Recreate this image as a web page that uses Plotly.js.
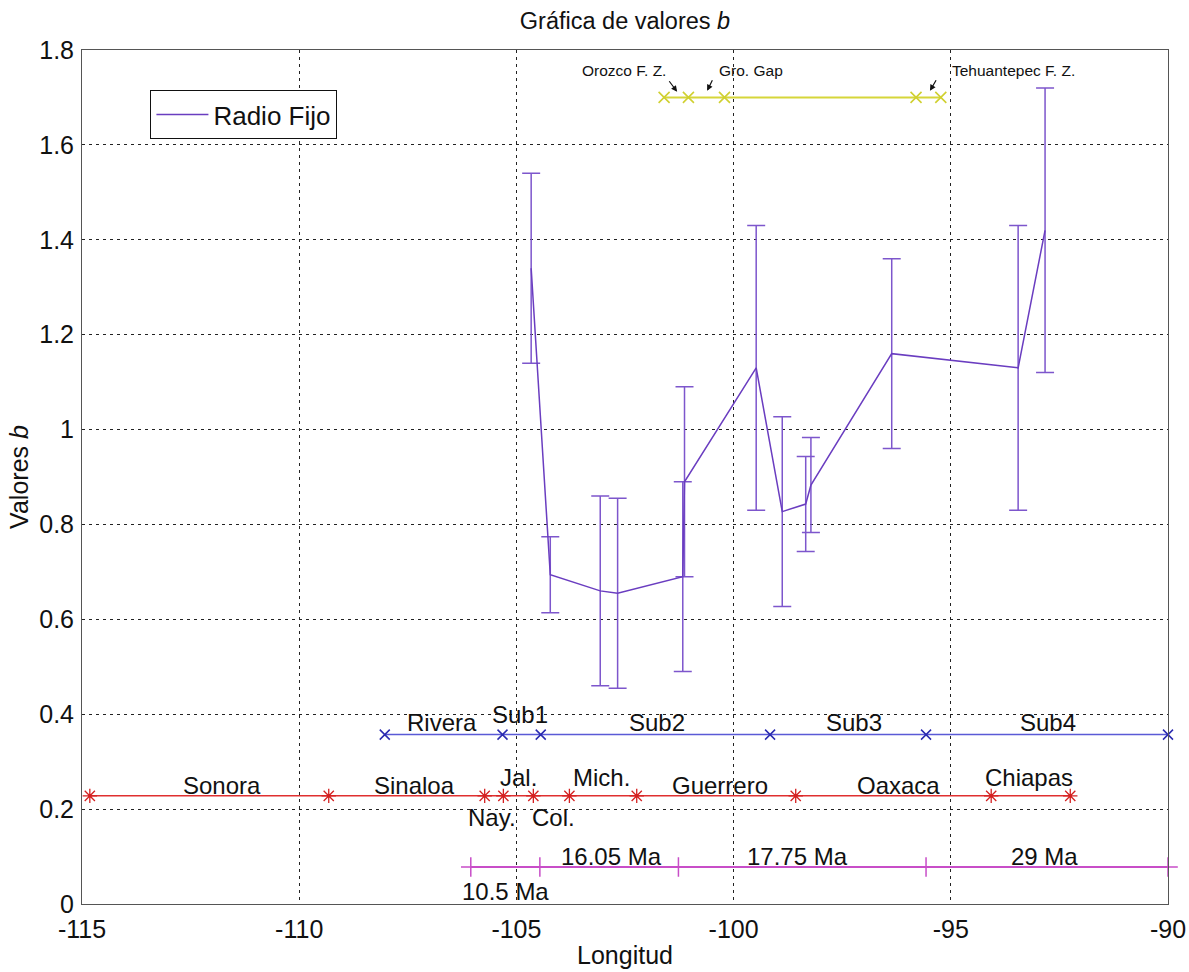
<!DOCTYPE html>
<html>
<head>
<meta charset="utf-8">
<script src="https://cdn.plot.ly/plotly-3.0.1.min.js"></script>
<style>html,body{margin:0;padding:0;background:#fff;}#chart{width:1189px;height:972px;}</style>
</head>
<body>
<div id="chart"></div>
<script>
// ---- Data ----
const lonB = [-104.66, -104.22, -103.07, -102.67, -101.17, -101.13, -99.48, -98.88, -98.34, -98.22, -96.36, -93.45, -92.83];
const valB = [1.34, 0.694, 0.66, 0.655, 0.69, 0.89, 1.13, 0.827, 0.843, 0.883, 1.16, 1.13, 1.42];
const errB = [0.2, 0.08, 0.2, 0.2, 0.2, 0.2, 0.3, 0.2, 0.1, 0.1, 0.2, 0.3, 0.3];

const lonZonas = [-101.6, -101.04, -100.21, -95.8, -95.23];
const yZonas = [1.70, 1.70, 1.70, 1.70, 1.70];

const lonSub = [-108.03, -105.32, -104.44, -99.16, -95.57, -90.0];
const ySub = [0.357, 0.357, 0.357, 0.357, 0.357, 0.357];

const lonEstados = [-114.82, -109.32, -105.73, -105.3, -104.61, -103.78, -102.23, -98.57, -94.07, -92.25];
const yEstados = [0.228, 0.228, 0.228, 0.228, 0.228, 0.228, 0.228, 0.228, 0.228, 0.228];

const lonEdad = [-106.05, -104.46, -101.27, -95.57, -90.0];
const yEdad = [0.078, 0.078, 0.078, 0.078, 0.078];

const subLabels = ['Rivera', 'Sub1', 'Sub2', 'Sub3', 'Sub4'];
const subLabelLon = [-106.72, -104.92, -101.76, -97.23, -92.76];
const subLabelY = [0.382, 0.399, 0.382, 0.382, 0.382];

const estadoLabels = ['Sonora', 'Sinaloa', 'Jal.', 'Mich.', 'Guerrero', 'Oaxaca', 'Chiapas', 'Nay.', 'Col.'];
const estadoLabelLon = [-111.77, -107.34, -104.96, -103.03, -100.31, -96.21, -93.2, -105.57, -104.14];
const estadoLabelY = [0.2496, 0.2496, 0.2665, 0.2665, 0.2496, 0.2496, 0.2665, 0.182, 0.182];

const edadLabels = ['10.5 Ma', '16.05 Ma', '17.75 Ma', '29 Ma'];
const edadLabelLon = [-105.24, -102.8, -98.52, -92.85];
const edadLabelY = [0.027, 0.100, 0.100, 0.100];

const zonaLabels = ['Orozco F. Z.', 'Gro. Gap', 'Tehuantepec F. Z.'];
const zonaLabelLon = [-101.51, -100.38, -95.01];
const zonaLabelY = [1.756, 1.756, 1.756];
const zonaLabelAnchor = ['right', 'left', 'left'];
const zonaArrowLon = [-101.3, -100.61, -95.48];
const zonaArrowY = [1.712, 1.714, 1.714];
const zonaArrowAx = [-9, 6, 7];

const xTickVals = [-115, -110, -105, -100, -95, -90];
const xTickText = ['-115', '-110', '-105', '-100', '-95', '-90'];

// ---- Plot ----
const FONT = 'Liberation Sans, Arial, sans-serif';
const purple = '#6a3dc0';

const traces = [
  {
    x: lonB, y: valB, type: 'scatter', mode: 'lines', name: 'Radio Fijo',
    line: {color: purple, width: 1.5},
    error_y: {type: 'data', array: errB, visible: true, color: '#7d56cc', thickness: 1.5, width: 9},
    showlegend: true
  },
  {
    x: lonZonas, y: yZonas, type: 'scatter', mode: 'lines+markers', showlegend: false,
    line: {color: '#d6d63a', width: 2},
    marker: {symbol: 'x-thin-open', size: 11, color: '#d0d030', line: {color: '#c8c830', width: 1.6}},
    cliponaxis: false
  },
  {
    x: lonSub, y: ySub, type: 'scatter', mode: 'lines+markers', showlegend: false,
    line: {color: '#5a5ad6', width: 1.5},
    marker: {symbol: 'x-thin-open', size: 10, color: '#2a2ab0', line: {color: '#2a2ab0', width: 1.5}},
    cliponaxis: false
  },
  {
    x: lonEstados, y: yEstados, type: 'scatter', mode: 'lines+markers', showlegend: false,
    line: {color: '#e03030', width: 1.5},
    marker: {symbol: 'asterisk-open', size: 12, color: '#d42020', line: {color: '#d42020', width: 1.3}},
    cliponaxis: false
  },
  {
    x: lonEdad, y: yEdad, type: 'scatter', mode: 'lines+markers', showlegend: false,
    line: {color: '#c84ec8', width: 2},
    marker: {symbol: 'cross-thin-open', size: 14, color: '#c84ec8', line: {color: '#c84ec8', width: 1.5}},
    cliponaxis: false
  }
];

const annotations = [];
function addLabels(texts, xs, ys, size) {
  texts.forEach((t, i) => annotations.push({
    x: xs[i], y: ys[i], xref: 'x', yref: 'y', text: t, showarrow: false,
    xanchor: 'center', yanchor: 'middle', font: {family: FONT, size: size, color: '#111'}
  }));
}
addLabels(subLabels, subLabelLon, subLabelY, 24);
addLabels(estadoLabels, estadoLabelLon, estadoLabelY, 24);
addLabels(edadLabels, edadLabelLon, edadLabelY, 24);
zonaLabels.forEach((t, i) => annotations.push({
  x: zonaLabelLon[i], y: zonaLabelY[i], xref: 'x', yref: 'y', text: t, showarrow: false,
  xanchor: zonaLabelAnchor[i], yanchor: 'middle', font: {family: FONT, size: 15.5, color: '#111'}
}));
zonaArrowLon.forEach((xv, i) => annotations.push({
  x: xv, y: zonaArrowY[i], xref: 'x', yref: 'y', text: '', showarrow: true,
  ax: zonaArrowAx[i], ay: -12, arrowhead: 2, arrowsize: 1, arrowwidth: 1.2, arrowcolor: '#111'
}));

const gridCommon = {
  showgrid: true, gridcolor: '#222', griddash: '3px,4px', gridwidth: 1,
  zeroline: false, showline: true, mirror: true, linecolor: '#555', linewidth: 1,
  ticks: '', tickfont: {family: FONT, size: 25, color: '#111'}
};

const layout = {
  width: 1189, height: 972,
  paper_bgcolor: '#fff', plot_bgcolor: '#fff',
  margin: {l: 82, r: 21, t: 50, b: 68},
  title: {text: 'Gráfica de valores <i>b</i>', x: 0.5, xref: 'paper', xanchor: 'center',
          y: 0.979, yref: 'container', yanchor: 'middle', font: {family: FONT, size: 23.5, color: '#111'}},
  xaxis: Object.assign({}, gridCommon, {range: [-115, -90], tickmode: 'array',
          tickvals: xTickVals, ticktext: xTickText, ticklabelstandoff: 3,
          title: {text: 'Longitud', font: {family: FONT, size: 25, color: '#111'}, standoff: 4}}),
  yaxis: Object.assign({}, gridCommon, {range: [0, 1.8], dtick: 0.2, tick0: 0, ticklabelstandoff: 2,
          title: {text: 'Valores <i>b</i>', font: {family: FONT, size: 25, color: '#111'}, standoff: 3}}),
  legend: {x: 0.063, y: 0.953, xanchor: 'left', yanchor: 'top', bgcolor: '#fff',
           bordercolor: '#111', borderwidth: 1, itemwidth: 52,
           font: {family: FONT, size: 26, color: '#111'}},
  annotations: annotations,
  showlegend: true
};

Plotly.newPlot('chart', traces, layout, {displayModeBar: false, staticPlot: true});
</script>
</body>
</html>
